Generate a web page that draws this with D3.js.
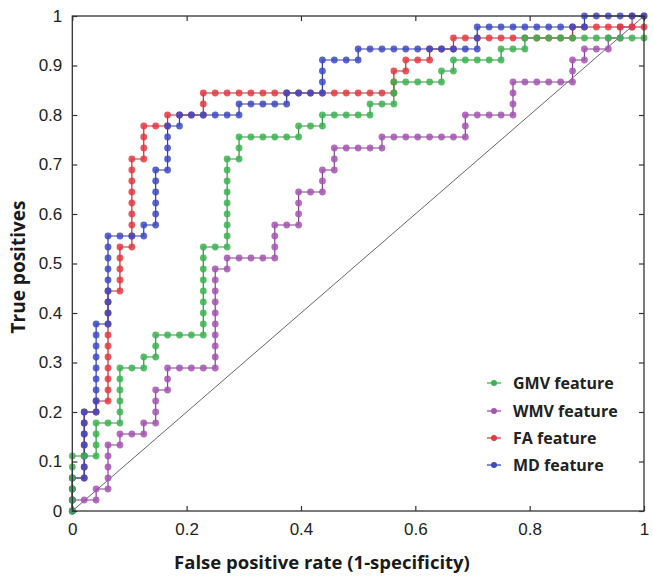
<!DOCTYPE html>
<html>
<head>
<meta charset="utf-8">
<script src="https://cdn.jsdelivr.net/npm/d3@7"></script>
<style>
  html, body { margin: 0; padding: 0; background: #fff; }
  svg { display: block; }
</style>
</head>
<body>
<svg id="chart" width="653" height="579"></svg>
<script>
// ---- Data (ROC step sequences) ----
// Each token = direction (U: one more true positive, R: one more false positive) + run length.
const nNegatives = 48;
const nPositives = 45;
const seriesNames = ["GMV feature", "WMV feature", "FA feature", "MD feature"];
const seriesColors = ["#3bb44f", "#a453b3", "#e5383f", "#3d4ac4"];
const gmvSteps = ["U5","R2","U3","R2","U5","R2","U1","R1","U2","R4","U8","R2","U8","R1","U2","R5","U1","R2","U1","R4","U1","R2","U2","R4","U1","R1","U1","R4","U1","R2","U1","R10"];
const wmvSteps = ["U1","R2","U1","R1","U4","R1","U1","R2","U1","R1","U3","R1","U2","R4","U9","R1","U1","R4","U3","R2","U3","R2","U2","R1","U2","R4","U1","R7","U2","R4","U3","R5","U2","R1","U1","R2","U1","R1","U1","R1","U1","R1"];
const faSteps  = ["U3","R1","U6","R1","U1","R1","U10","R1","U4","R1","U8","R1","U3","R2","U1","R3","U2","R16","U2","R1","U1","R2","U1","R2","U1","R10","U1","R6"];
const mdSteps  = ["U3","R1","U6","R1","U8","R1","U8","R3","U1","R1","U5","R1","U4","R1","U1","R5","U1","R4","U1","R3","U3","R3","U1","R10","U2","R9","U1","R5"];
const xTickValues = [0, 0.2, 0.4, 0.6, 0.8, 1];
const xTickLabels = ["0", "0.2", "0.4", "0.6", "0.8", "1"];
const yTickValues = [0, 0.1, 0.2, 0.3, 0.4, 0.5, 0.6, 0.7, 0.8, 0.9, 1];
const yTickLabels = ["0", "0.1", "0.2", "0.3", "0.4", "0.5", "0.6", "0.7", "0.8", "0.9", "1"];
const xTitle = "False positive rate (1-specificity)";
const yTitle = "True positives";

// Build ROC points from the step sequences
function rocPoints(steps) {
  let fp = 0, tp = 0;
  const pts = [{ x: 0, y: 0 }];
  steps.forEach(tok => {
    const dir = tok[0], n = +tok.slice(1);
    for (let k = 0; k < n; k++) {
      if (dir === "U") tp++; else fp++;
      pts.push({ x: fp / nNegatives, y: tp / nPositives });
    }
  });
  return pts;
}
const allSteps = [gmvSteps, wmvSteps, faSteps, mdSteps];
const series = seriesNames.map((name, i) => ({ name, color: seriesColors[i], points: rocPoints(allSteps[i]) }));

// ---- Layout ----
const svg = d3.select("#chart");
const plotLeft = 72.3, plotRight = 644, plotTop = 16, plotBottom = 511;
const x = d3.scaleLinear().domain([0, 1]).range([plotLeft, plotRight]);
const y = d3.scaleLinear().domain([0, 1]).range([plotBottom, plotTop]);
const tickFont = "'Liberation Sans', Arial, sans-serif";
const titleFont = "'Open Sans', 'Noto Sans', sans-serif";

// Diagonal reference line
svg.append("line")
  .attr("x1", x(0)).attr("y1", y(0)).attr("x2", x(1)).attr("y2", y(1))
  .attr("stroke", "#555").attr("stroke-width", 0.9);

// Curves
const line = d3.line().x(d => x(d.x)).y(d => y(d.y));
const drawOrder = [1, 2, 3, 0];
drawOrder.forEach(i => {
  const s = series[i];
  const g = svg.append("g");
  g.append("path").attr("d", line(s.points)).attr("fill", "none")
    .attr("stroke", d3.color(s.color).darker(0.6)).attr("stroke-width", 1.2);
  g.selectAll("circle").data(s.points).join("circle")
    .attr("cx", d => x(d.x)).attr("cy", d => y(d.y)).attr("r", 3.4)
    .attr("fill", s.color).attr("fill-opacity", 0.85);
});

// Axes (inward ticks on all four sides)
function styleAxis(g) {
  g.select(".domain").remove();
  g.selectAll(".tick line").attr("stroke", "#333").attr("stroke-width", 1.2);
  g.selectAll(".tick text").attr("font-family", tickFont).attr("font-size", 17).attr("fill", "#222");
}
svg.append("g").attr("transform", `translate(0,${plotBottom})`)
  .call(d3.axisBottom(x).tickValues(xTickValues).tickFormat((d, i) => xTickLabels[i]).tickSize(-5).tickPadding(12))
  .call(styleAxis);
svg.append("g").attr("transform", `translate(0,${plotTop})`)
  .call(d3.axisTop(x).tickValues(xTickValues).tickFormat("").tickSize(-5))
  .call(styleAxis);
svg.append("g").attr("transform", `translate(${plotLeft},0)`)
  .call(d3.axisLeft(y).tickValues(yTickValues).tickFormat((d, i) => yTickLabels[i]).tickSize(-5).tickPadding(10))
  .call(styleAxis);
svg.append("g").attr("transform", `translate(${plotRight},0)`)
  .call(d3.axisRight(y).tickValues(yTickValues).tickFormat("").tickSize(-5))
  .call(styleAxis);

// Frame
svg.append("rect").attr("x", plotLeft).attr("y", plotTop).attr("width", plotRight - plotLeft).attr("height", plotBottom - plotTop)
  .attr("fill", "none").attr("stroke", "#333").attr("stroke-width", 1.3);

// Titles
svg.append("text").attr("x", 322).attr("y", 561).attr("text-anchor", "middle").attr("dominant-baseline", "central")
  .attr("font-family", titleFont).attr("font-weight", 700).attr("font-size", 18.5).attr("fill", "#1a1a1a")
  .text(xTitle);
svg.append("text").attr("transform", "translate(18,267) rotate(-90)").attr("text-anchor", "middle").attr("dominant-baseline", "central")
  .attr("font-family", titleFont).attr("font-weight", 700).attr("font-size", 19).attr("fill", "#1a1a1a")
  .text(yTitle);

// Legend
const legendY = [383, 411, 438, 465];
const legend = svg.append("g");
series.forEach((s, i) => {
  const gy = legendY[i];
  legend.append("line").attr("x1", 487).attr("x2", 501).attr("y1", gy).attr("y2", gy)
    .attr("stroke", s.color).attr("stroke-width", 1.3);
  legend.append("circle").attr("cx", 494).attr("cy", gy).attr("r", 3).attr("fill", s.color);
  legend.append("text").attr("x", 513).attr("y", gy).attr("dominant-baseline", "central")
    .attr("font-family", titleFont).attr("font-weight", 700).attr("font-size", 16).attr("fill", "#222")
    .text(s.name);
});
</script>
</body>
</html>
